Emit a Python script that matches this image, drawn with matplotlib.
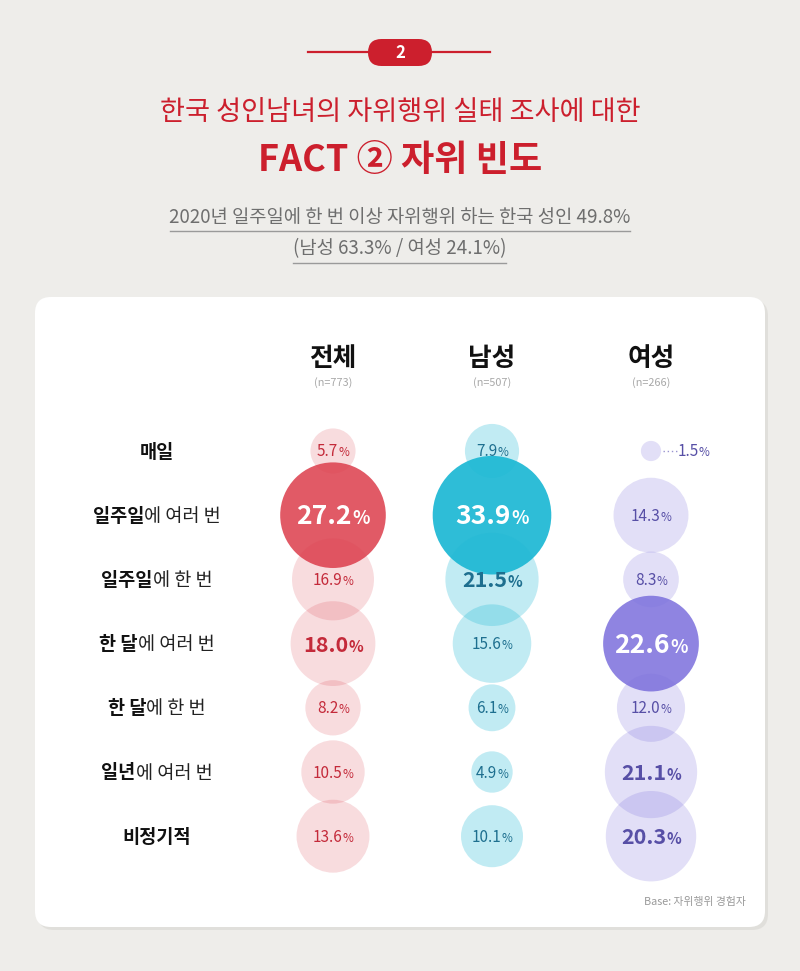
import matplotlib
matplotlib.use('Agg')
import matplotlib.pyplot as plt
import numpy as np
from matplotlib.patches import Circle, FancyBboxPatch

plt.rcParams['font.family'] = ['Noto Sans CJK KR', 'DejaVu Sans']

# data
labels_bold = ['매일', '일주일', '일주일', '한 달', '한 달', '일년', '비정기적']
labels_rest = ['', '에 여러 번', '에 한 번', '에 여러 번', '에 한 번', '에 여러 번', '']
groups = ['전체', '남성', '여성']
group_n = ['(n=773)', '(n=507)', '(n=266)']
total = [5.7, 27.2, 16.9, 18.0, 8.2, 10.5, 13.6]
male = [7.9, 33.9, 21.5, 15.6, 6.1, 4.9, 10.1]
female = [1.5, 14.3, 8.3, 22.6, 12.0, 21.1, 20.3]
series = [total, male, female]

base_cols = ['#dc3d4b', '#1cb8d4', '#7b6fdc']
text_cols = ['#c42a3a', '#1e6f8f', '#574fa6']
heavy_alpha = [0.85, 0.92, 0.85]
light_alpha = [0.18, 0.27, 0.22]

W, H = 800, 971
fig = plt.figure(figsize=(W / 100, H / 100), dpi=100)
fig.patch.set_facecolor('#eeedea')
ax = fig.add_axes([0, 0, 1, 1])
ax.set_xlim(0, W)
ax.set_ylim(H, 0)
ax.axis('off')
ax.set_facecolor('#eeedea')

renderer = fig.canvas.get_renderer()


def pieces(x, y, parts, zorder=5):
    # parts: (text, size, weight, color); put them side by side, centered on x
    ts = []
    for txt, size, weight, color in parts:
        t = ax.text(0, y, txt, fontsize=size, fontweight=weight, color=color,
                    ha='left', va='baseline', zorder=zorder)
        ts.append(t)
    widths = [t.get_window_extent(renderer).width if t.get_text() else 0 for t in ts]
    x0 = x - sum(widths) / 2
    for t, w in zip(ts, widths):
        t.set_x(x0)
        x0 += w
    return ts


# header
red = '#cc1f2d'
ax.plot([308, 490], [52, 52], color=red, lw=1.6, zorder=2)
ax.add_patch(FancyBboxPatch((368, 39), 64, 27, boxstyle='round,pad=0,rounding_size=13.5',
                            fc=red, ec='none', zorder=3))
ax.text(400, 53, '2', color='white', fontsize=12, fontweight='bold', ha='center', va='center', zorder=4)
ax.text(400, 113, '한국 성인남녀의 자위행위 실태 조사에 대한', color=red, fontsize=19.6,
        ha='center', va='center')
ax.text(400, 160, 'FACT ② 자위 빈도', color=red, fontsize=26, fontweight='bold',
        ha='center', va='center')
ax.text(400, 217, '2020년 일주일에 한 번 이상 자위행위 하는 한국 성인 49.8%', color='#6e6e6e',
        fontsize=13.5, ha='center', va='center')
ax.plot([170, 630], [231, 231], color='#9a9a9a', lw=1)
ax.text(400, 249, '(남성 63.3% / 여성 24.1%)', color='#6e6e6e', fontsize=13.5,
        ha='center', va='center')
ax.plot([293, 506], [263, 263], color='#9a9a9a', lw=1)

# card
ax.add_patch(FancyBboxPatch((38, 300), 730, 630, boxstyle='round,pad=0,rounding_size=16',
                            fc='#d8d6d2', ec='none', zorder=0.5, alpha=0.6))
ax.add_patch(FancyBboxPatch((35, 297), 730, 630, boxstyle='round,pad=0,rounding_size=16',
                            fc='white', ec='none', zorder=1))

col_x = [333, 492, 651]
row_y = [451 + i * 64.2 for i in range(len(labels_bold))]

for cx, g, n in zip(col_x, groups, group_n):
    ax.text(cx, 358, g, fontsize=18.5, fontweight='bold', color='#111111', ha='center', va='center', zorder=5)
    ax.text(cx, 383, n, fontsize=7.8, color='#a8a8a8', ha='center', va='center', zorder=5)

for y, b, r in zip(row_y, labels_bold, labels_rest):
    pieces(157, y + 6.5, [(b, 13.4, 'bold', '#111111'), (r, 13.4, 'normal', '#222222')])

for j, vals in enumerate(series):
    top = max(vals)
    for i, v in enumerate(vals):
        cx, cy = col_x[j], row_y[i]
        rad = 10.7 * np.sqrt(v) - 3
        heavy = v == top
        ax.add_patch(Circle((cx, cy), rad, fc=base_cols[j], ec='none',
                            alpha=heavy_alpha[j] if heavy else light_alpha[j], zorder=2))
        num = f'{v:.1f}'
        if heavy:
            pieces(cx, cy + 9, [(num, 19, 'bold', 'white'), ('%', 13, 'bold', 'white')])
        elif rad < 15:
            ax.plot([cx + rad + 2, cx + rad + 16], [cy, cy], ls=(0, (1, 2)), color='#9a94d0', lw=1, zorder=3)
            ax.text(cx + rad + 17, cy + 5.5, num, fontsize=11, color=text_cols[j], ha='left', va='baseline', zorder=5)
            ax.text(cx + rad + 37, cy + 5.5, '%', fontsize=8.5, color=text_cols[j], ha='left', va='baseline', zorder=5)
        elif v >= 18:
            pieces(cx, cy + 8, [(num, 15.5, 'bold', text_cols[j]), ('%', 11, 'bold', text_cols[j])])
        else:
            pieces(cx, cy + 5.5, [(num, 11, 'normal', text_cols[j]), ('%', 8.5, 'normal', text_cols[j])])

ax.text(746, 902, 'Base: 자위행위 경험자', fontsize=7.8, color='#9a9a9a', ha='right', va='center', zorder=5)

fig.savefig('out.png', dpi=100, facecolor=fig.get_facecolor())
